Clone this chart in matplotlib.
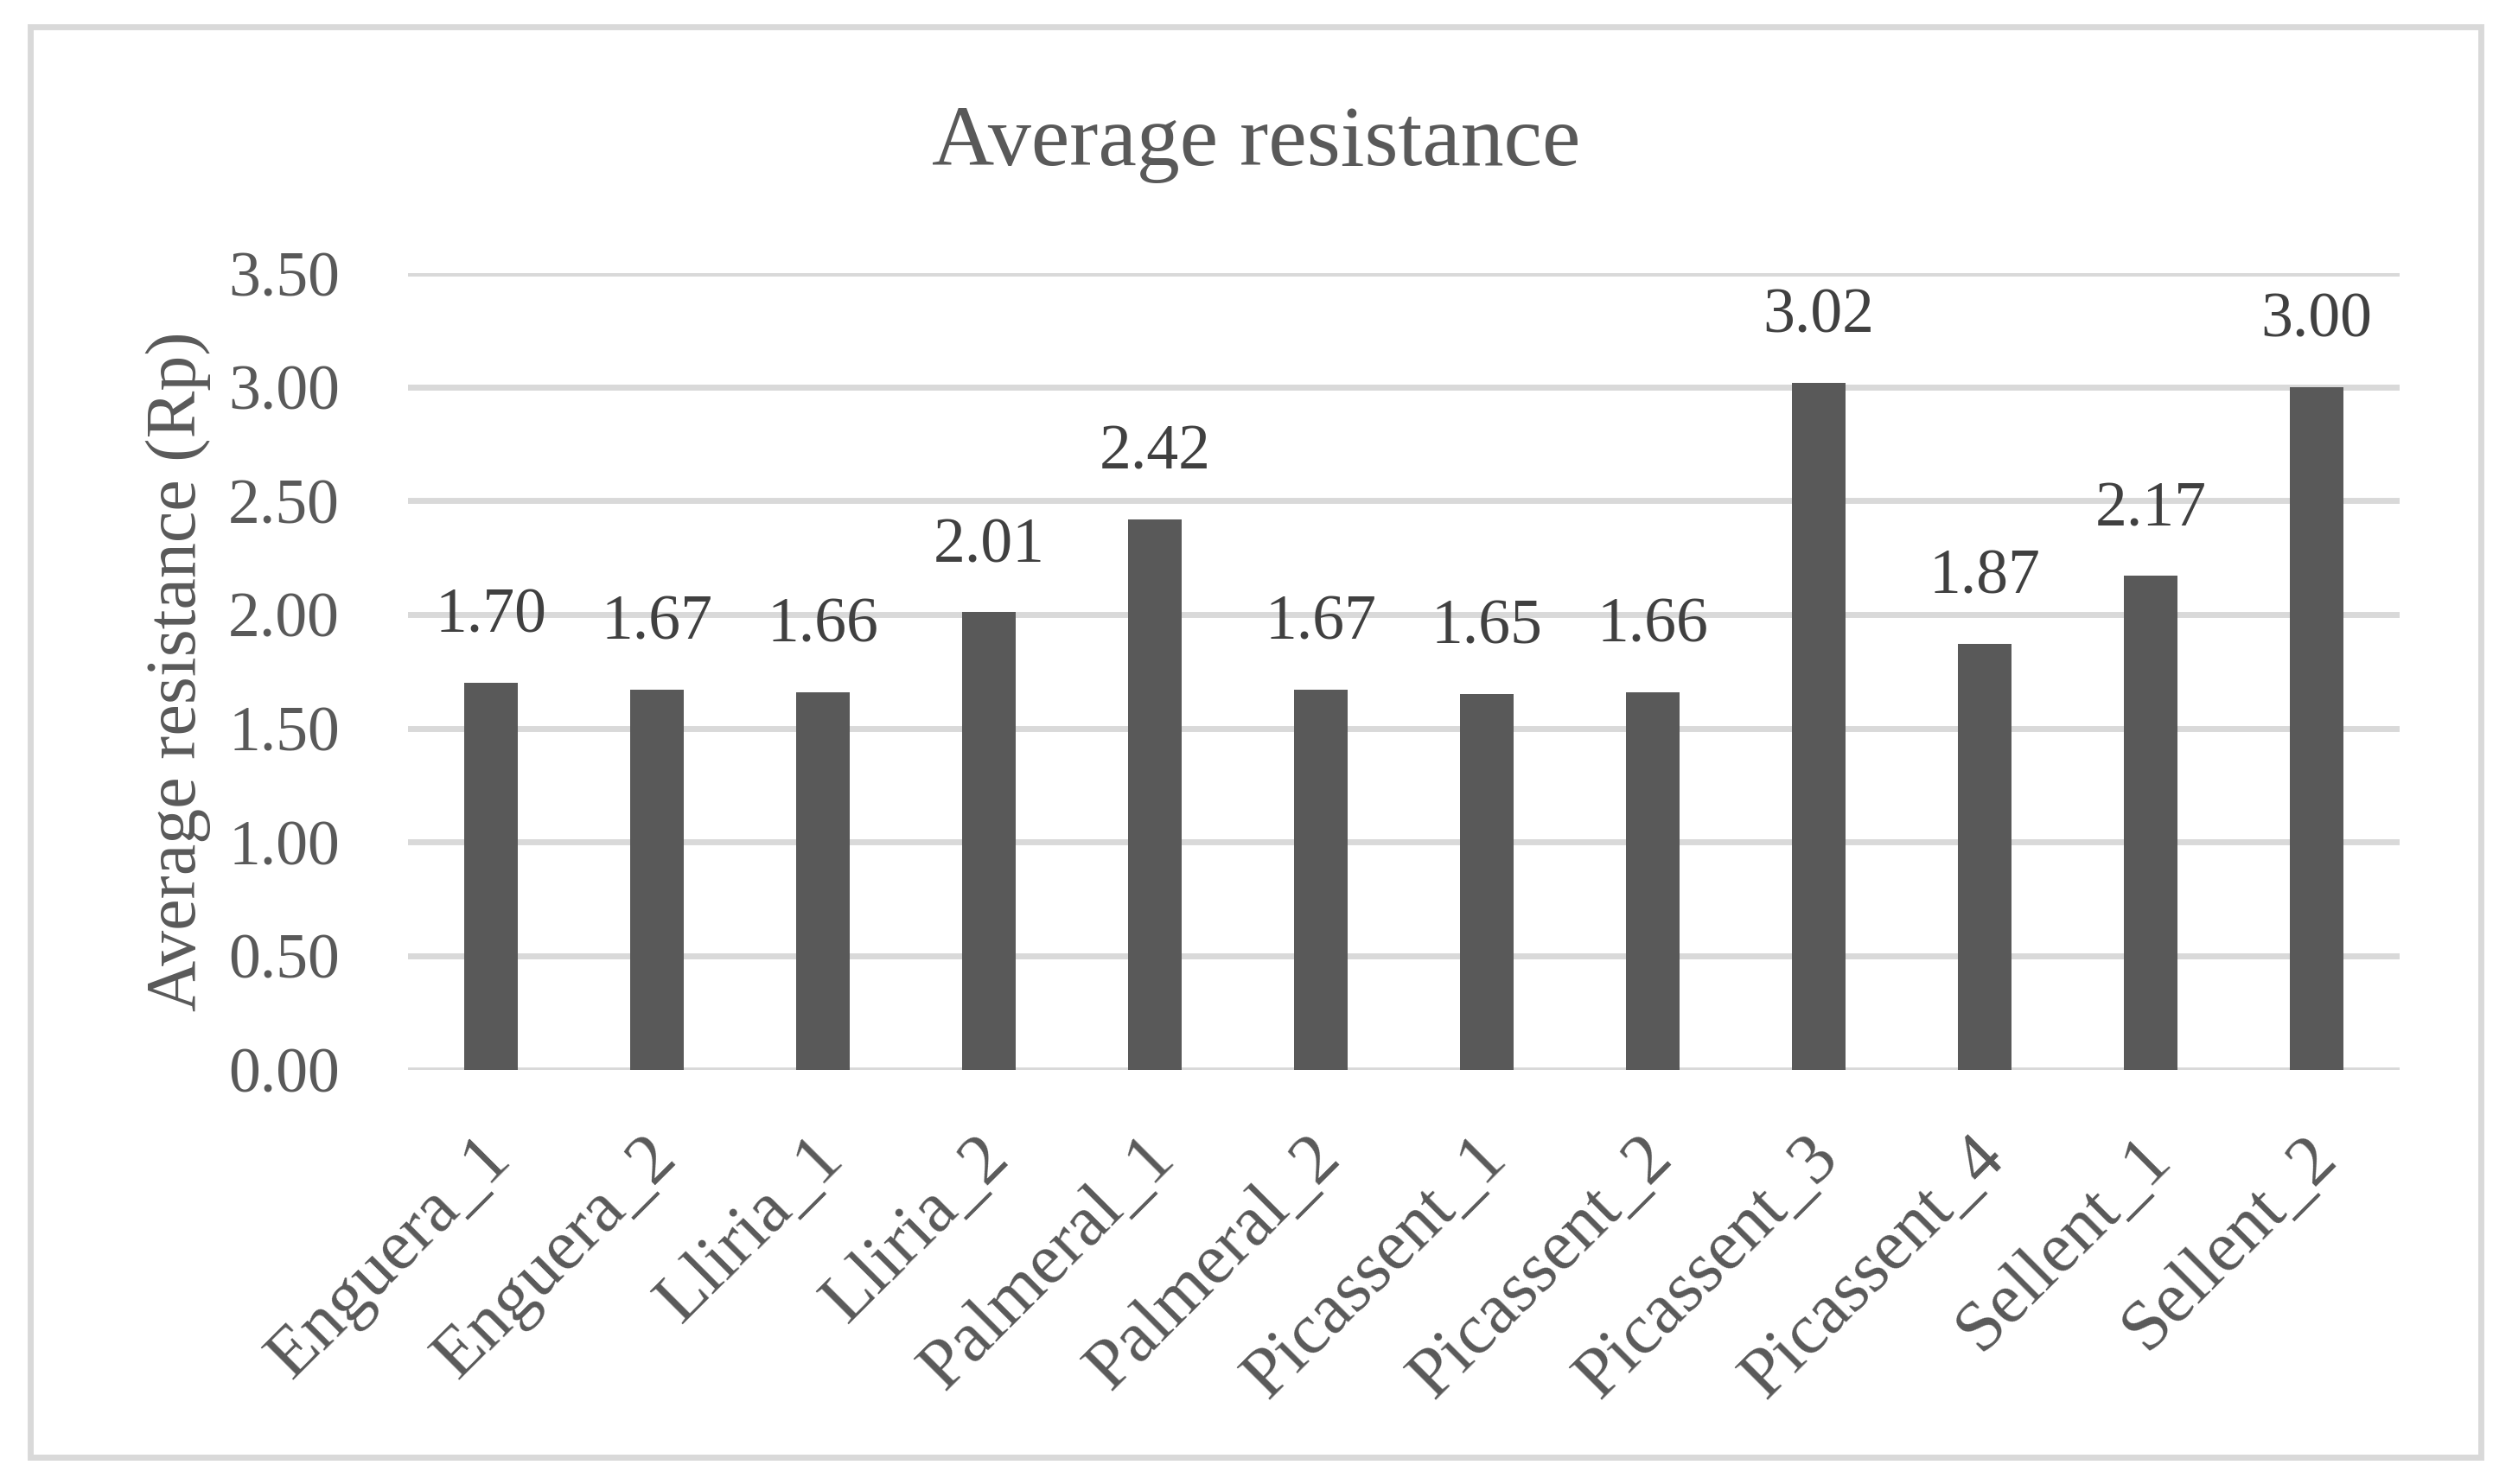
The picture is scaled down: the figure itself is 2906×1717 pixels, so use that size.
import matplotlib
matplotlib.use("Agg")
import matplotlib.pyplot as plt
from matplotlib.patches import Rectangle
from matplotlib.transforms import ScaledTranslation

categories = ["Enguera_1", "Enguera_2", "Lliria_1", "Lliria_2", "Palmeral_1", "Palmeral_2",
              "Picassent_1", "Picassent_2", "Picassent_3", "Picassent_4", "Sellent_1", "Sellent_2"]
values = [1.70, 1.67, 1.66, 2.01, 2.42, 1.67, 1.65, 1.66, 3.02, 1.87, 2.17, 3.00]
yticks = [0.0, 0.5, 1.0, 1.5, 2.0, 2.5, 3.0, 3.5]
title = "Average resistance"
ylabel = "Average resistance (Rp)"

plt.rcParams['font.family'] = ['Liberation Serif', 'DejaVu Serif']

W, H = 2906, 1717
fig = plt.figure(figsize=(W / 100, H / 100), dpi=100)
fig.patch.set_facecolor('white')

# outer frame
fig.patches.append(Rectangle((34.5 / W, 31.5 / H), (2869.5 - 34.5) / W, (1685.5 - 31.5) / H,
                             transform=fig.transFigure, fill=False, edgecolor='#d9d9d9',
                             linewidth=5, zorder=0))

ax = fig.add_axes([472 / W, 479.5 / H, 2304 / W, (1237.5 - 316.3) / H])
x = list(range(len(categories)))
ax.bar(x, values, width=0.32, color='#595959', zorder=3)
ax.set_xlim(-0.5, len(categories) - 0.5)
ax.set_ylim(0, 3.5)
ax.set_yticks(yticks)
ax.set_yticklabels([f"{v:.2f}" for v in yticks])
ax.yaxis.grid(True, color='#d9d9d9', linewidth=5, zorder=0)
ax.set_axisbelow(True)
for s in ax.spines.values():
    s.set_visible(False)
ax.tick_params(axis='y', length=0, pad=57, labelsize=53, labelcolor='#595959')
ax.tick_params(axis='x', length=0, pad=46, labelsize=60, labelcolor='#595959')
ax.set_xticks(x)
ax.set_xticklabels(categories, rotation=45, ha='right', va='top', rotation_mode='anchor')
shift = ScaledTranslation(-15 / 100, 0, fig.dpi_scale_trans)
for lab in ax.get_xticklabels():
    lab.set_transform(lab.get_transform() + shift)

for xi, v in zip(x, values):
    ax.annotate(f"{v:.2f}", (xi, v), xytext=(0, 42), textcoords='offset points',
                ha='center', va='baseline', fontsize=53, color='#404040')

ax.set_ylabel(ylabel, fontsize=59, color='#595959')
ax.yaxis.set_label_coords(-0.099, 0.5)

fig.text(0.5, 1 - 191 / H, title, ha='center', va='baseline', fontsize=72, color='#595959')

fig.savefig("out.png", dpi=100)
